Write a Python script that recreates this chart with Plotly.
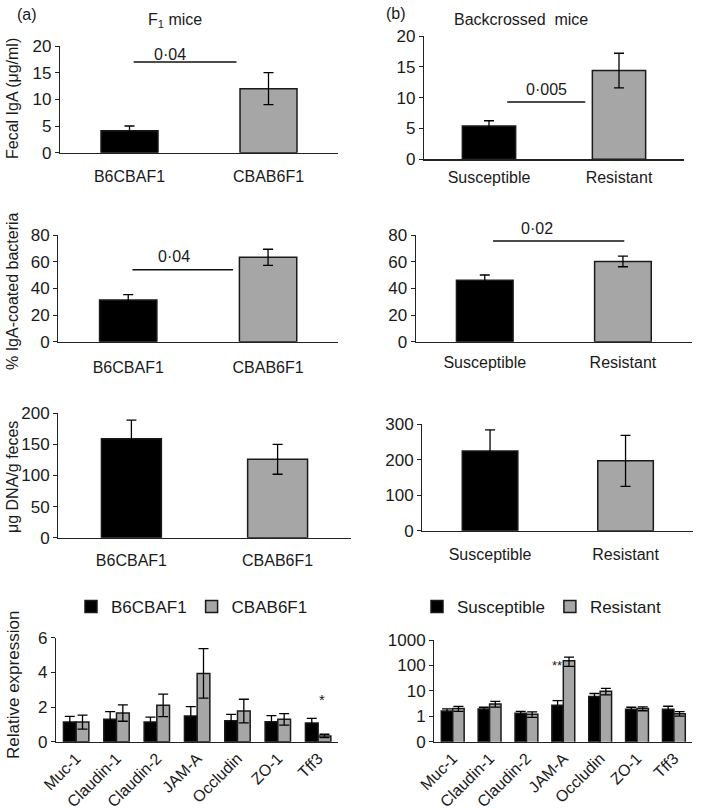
import plotly.graph_objects as go

# ---------------- data ----------------
f1_groups = ["B6CBAF1", "CBAB6F1"]
bc_groups = ["Susceptible", "Resistant"]

iga_f1 = [4.1, 12.0]
iga_f1_err = [0.9, 3.0]
iga_bc = [5.4, 14.4]
iga_bc_err = [0.85, 2.8]

coat_f1 = [31.3, 63.3]
coat_f1_err = [4.0, 6.0]
coat_bc = [46.0, 60.2]
coat_bc_err = [4.0, 4.0]

dna_f1 = [159.0, 126.0]
dna_f1_err = [30.0, 24.0]
dna_bc = [225.0, 197.0]
dna_bc_err = [59.0, 72.0]

genes = ["Muc-1", "Claudin-1", "Claudin-2", "JAM-A", "Occludin", "ZO-1", "Tff3"]
expr_b6cba = [1.13, 1.29, 1.13, 1.48, 1.21, 1.15, 1.08]
expr_b6cba_err = [0.33, 0.44, 0.29, 0.54, 0.37, 0.35, 0.27]
expr_cbab6 = [1.13, 1.65, 2.10, 3.94, 1.77, 1.29, 0.33]
expr_cbab6_err = [0.40, 0.47, 0.65, 1.43, 0.68, 0.33, 0.10]

expr_sus = [1.62, 1.95, 1.31, 2.72, 5.97, 1.89, 1.89]
expr_sus_err = [0.32, 0.31, 0.26, 1.43, 1.88, 0.37, 0.59]
expr_res = [2.0, 3.07, 1.20, 152.0, 9.7, 2.0, 1.27]
expr_res_err = [0.45, 0.8, 0.30, 60.0, 2.7, 0.35, 0.25]

y_ticks_iga = [0, 5, 10, 15, 20]
y_ticks_coat = [0, 20, 40, 60, 80]
y_ticks_dna_f1 = [0, 50, 100, 150, 200]
y_ticks_dna_bc = [0, 100, 200, 300]
y_ticks_expr = [0, 2, 4, 6]
log_tickvals = [0.1, 1, 10, 100, 1000]
log_ticktext = ["0", "1", "10", "100", "1000"]

# significance brackets: (panel, x0, x1, y, label, label_x, label_pixel_y)
sig_brackets = [
    (1, 0.03, 0.77, 17.0, "0·04", 0.29, 55),
    (2, 0.14, 0.74, 9.3, "0·005", 0.44, 90),
    (3, 0.03, 0.75, 54.0, "0·04", 0.33, 256),
    (4, 0.06, 1.01, 75.5, "0·02", 0.38, 229),
]

BLACK = "#000000"
GREY = "#a6a6a6"
EDGE = "#1a1a1a"
TXT = "#1a1a1a"
FONT = "Liberation Sans, Arial, Helvetica, sans-serif"
W, H = 709, 808
FS = 16

def px_x(p):
    return p / W

def px_y(p):
    return 1 - p / H

def dx(a, b):
    return [px_x(a), px_x(b)]

def dy(top, bottom):
    return [px_y(bottom), px_y(top)]

# pixel boxes in the 709x808 window: (x0, x1, ytop, ybottom)
boxes = {
    1: (60, 338, 46, 152.7),
    2: (424, 684, 36, 159.3),
    3: (58.3, 338, 235, 341.7),
    4: (415.7, 692, 235, 341.7),
    5: (58.3, 350.7, 413.3, 537.7),
    6: (422.3, 693.3, 424.3, 530.7),
    7: (56, 338.3, 637.7, 741.7),
    8: (434.3, 692.3, 640, 741.7),
}

fig = go.Figure()

def err(arr):
    return dict(type="data", array=arr, visible=True, color=BLACK, thickness=1.3, width=5)

def single_panel(n, cats, vals, errs):
    ax = "" if n == 1 else str(n)
    fig.add_trace(go.Bar(
        x=cats, y=vals, error_y=err(errs), width=0.41,
        marker=dict(color=[BLACK, GREY], line=dict(color=EDGE, width=1.5)),
        xaxis="x" + ax, yaxis="y" + ax, showlegend=False, hoverinfo="skip",
    ))

single_panel(1, f1_groups, iga_f1, iga_f1_err)
single_panel(2, bc_groups, iga_bc, iga_bc_err)
single_panel(3, f1_groups, coat_f1, coat_f1_err)
single_panel(4, bc_groups, coat_bc, coat_bc_err)
single_panel(5, f1_groups, dna_f1, dna_f1_err)
single_panel(6, bc_groups, dna_bc, dna_bc_err)

def grouped(n, names, v1, e1, v2, e2, w, legend):
    ax = str(n)
    fig.add_trace(go.Bar(
        x=genes, y=v1, error_y=err(e1), width=w, offset=-w, name=names[0],
        marker=dict(color=BLACK, line=dict(color=EDGE, width=1.5)),
        xaxis="x" + ax, yaxis="y" + ax, legend=legend, hoverinfo="skip",
    ))
    fig.add_trace(go.Bar(
        x=genes, y=v2, error_y=err(e2), width=w, offset=0, name=names[1],
        marker=dict(color=GREY, line=dict(color=EDGE, width=1.5)),
        xaxis="x" + ax, yaxis="y" + ax, legend=legend, hoverinfo="skip",
    ))

grouped(7, f1_groups, expr_b6cba, expr_b6cba_err, expr_cbab6, expr_cbab6_err, 0.315, "legend")
grouped(8, bc_groups, expr_sus, expr_sus_err, expr_res, expr_res_err, 0.31, "legend2")

layout = dict(
    width=W, height=H, margin=dict(l=0, r=0, t=0, b=0, pad=0, autoexpand=False),
    paper_bgcolor="white", plot_bgcolor="white",
    barmode="overlay",
    font=dict(family=FONT, size=FS, color=TXT),
    annotations=[], shapes=[],
)

yticks = {1: y_ticks_iga, 2: y_ticks_iga, 3: y_ticks_coat, 4: y_ticks_coat,
          5: y_ticks_dna_f1, 6: y_ticks_dna_bc, 7: y_ticks_expr}
standoff = {1: 9, 2: 3, 3: 11, 4: 6, 5: 8, 6: 9, 7: 0, 8: 0}

for n, (x0, x1, yt, yb) in boxes.items():
    key = "" if n == 1 else str(n)
    xa = dict(domain=dx(x0, x1), anchor="y" + key, showline=True, linecolor="#222",
              linewidth=1.2, ticks="", showgrid=False, zeroline=False, automargin=False,
              tickfont=dict(size=FS, color=TXT), ticklabelstandoff=standoff[n], fixedrange=True)
    if n >= 7:
        xa["tickangle"] = -45
        xa["tickfont"] = dict(size=16, color=TXT)
    ya = dict(domain=dy(yt, yb), anchor="x" + key, showline=True, linecolor="#222",
              linewidth=1.2, ticks="outside", ticklen=4, tickcolor="#222", automargin=False,
              showgrid=False, zeroline=False, tickfont=dict(size=17, color=TXT), fixedrange=True)
    if n == 8:
        ya.update(type="log", range=[-1, 3], tickvals=log_tickvals, ticktext=log_ticktext)
    else:
        tv = yticks[n]
        ya.update(range=[0, tv[-1]], tickvals=tv)
    layout["xaxis" + key] = xa
    layout["yaxis" + key] = ya

# significance brackets
for (n, x0, x1, yv, lab, lx, lpy) in sig_brackets:
    key = "" if n == 1 else str(n)
    layout["shapes"].append(dict(type="line", xref="x" + key, yref="y" + key,
                                 x0=x0, x1=x1, y0=yv, y1=yv,
                                 line=dict(color="#111", width=1.5)))
    layout["annotations"].append(dict(xref="x" + key, yref="paper", x=lx, y=px_y(lpy),
                                      text=lab, showarrow=False, font=dict(size=FS, color=TXT),
                                      yanchor="middle"))

def pann(text, x, y, size=FS, angle=0):
    layout["annotations"].append(dict(xref="paper", yref="paper", x=px_x(x), y=px_y(y),
                                      text=text, showarrow=False, textangle=angle,
                                      font=dict(size=size, color=TXT),
                                      xanchor="center", yanchor="middle"))

pann("(a)", 27, 14)
pann("F<sub>1</sub> mice", 175, 20)
pann("(b)", 396, 13)
pann("Backcrossed  mice", 521, 19)
pann("Fecal IgA (μg/ml)", 12, 99, angle=-90)
pann("% IgA-coated bacteria", 12, 291, angle=-90)
pann("μg DNA/g feces", 12, 477, angle=-90)
pann("Relative expression", 13, 685, angle=-90, size=17)

# star annotations
layout["annotations"].append(dict(xref="x7", yref="y7", x=6.09, y=2.45, text="*",
                                  showarrow=False, font=dict(size=15, color=TXT)))
layout["annotations"].append(dict(xref="x8", yref="y8", x=2.84, y=2.0, text="**",
                                  showarrow=False, font=dict(size=13, color=TXT)))

layout["legend"] = dict(orientation="h", x=px_x(192), y=px_y(607), xanchor="center",
                        yanchor="middle", font=dict(size=17, color=TXT), itemwidth=30,
                        bgcolor="rgba(0,0,0,0)")
layout["legend2"] = dict(orientation="h", x=px_x(542), y=px_y(607), xanchor="center",
                         yanchor="middle", font=dict(size=17, color=TXT), itemwidth=30,
                         bgcolor="rgba(0,0,0,0)")

fig.update_layout(**layout)
# remove the browser's default 8px body margin so the figure fills the window exactly
fig.write_html("out.html", config={"displayModeBar": False, "staticPlot": True},
               post_script="document.body.style.margin='0';")
